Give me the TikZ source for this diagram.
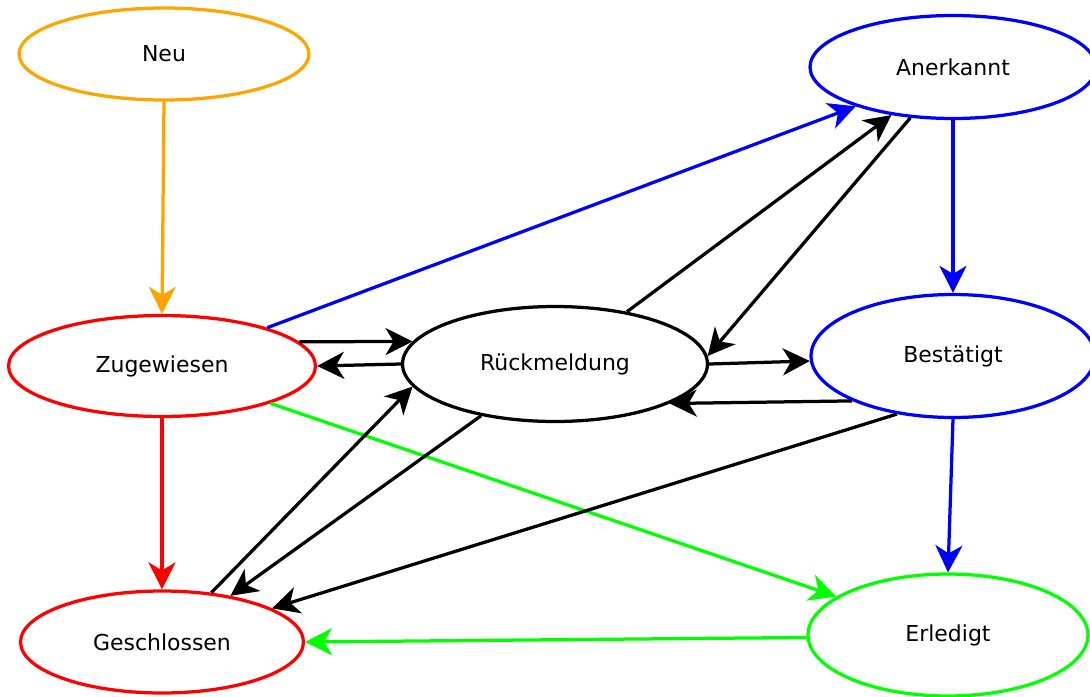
\documentclass[tikz,border=0pt]{standalone}
\usepackage{fontspec}
\setmainfont{DejaVu Sans}
\usetikzlibrary{shapes.geometric,arrows.meta}
\definecolor{neuorange}{RGB}{255,165,0}
\definecolor{okgreen}{RGB}{0,255,0}

\begin{document}
\begin{tikzpicture}[x=0.02cm,y=-0.02cm,
  state/.style={ellipse,draw,line width=0.065cm,inner sep=0pt,font=\fontsize{12.5}{15}\selectfont},
  edge/.style={line width=0.065cm,-{Stealth[length=0.54cm,width=0.54cm,inset=0.16cm]}}]
\useasboundingbox (0,0) rectangle (1090,697);

% Drawing states
\node[state,draw=neuorange,minimum width=5.8cm,minimum height=1.84cm] (neu) at (164,54) {Neu};
\node[state,draw=blue,minimum width=5.72cm,minimum height=2.06cm] (anerk) at (953,67) {Anerkannt};
\node[state,draw=red,minimum width=6.14cm,minimum height=2.02cm] (zug) at (162,366) {Zugewiesen};
\node[state,draw=black,minimum width=6.1cm,minimum height=2.3cm] (rueck) at (555,364) {Rückmeldung};
\node[state,draw=blue,minimum width=5.68cm,minimum height=2.46cm] (best) at (953,356) {Bestätigt};
\node[state,draw=red,minimum width=5.66cm,minimum height=2.04cm] (gesch) at (162,642) {Geschlossen};
\node[state,draw=okgreen,minimum width=5.6cm,minimum height=2.44cm] (erl) at (948,635) {Erledigt};

% Drawing edges from Zugewiesen
\draw[edge,neuorange] (neu.south) -- (zug.north);
\draw[edge,blue] (zug.20.6) -- (anerk.202);
\draw[edge] (zug.10.4) -- (rueck.171.6);
\draw[edge,red] (zug.south) -- (gesch.north);
\draw[edge,okgreen] (zug.-19.7) -- (erl.161.9);

% Drawing edges from Rueckmeldung
\draw[edge] (rueck.180) -- (zug.0);
\draw[edge] (rueck.36.9) -- (anerk.218.7);
\draw[edge] (rueck.0.5) -- (best.182.6);
\draw[edge] (rueck.215.2) -- (gesch.34.6);

% Drawing edges from Anerkannt and Bestaetigt
\draw[edge] (anerk.230) -- (rueck.3);
\draw[edge,blue] (anerk.south) -- (best.north);
\draw[edge] (best.204.7) -- (rueck.-19.7);
\draw[edge,blue] (best.south) -- (erl.north);
\draw[edge] (best.226.7) -- (gesch.17);

% Drawing edges to Geschlossen
\draw[edge] (gesch.45.6) -- (rueck.189.7);
\draw[edge,okgreen] (erl.181) -- (gesch.0);
\end{tikzpicture}
\end{document}
